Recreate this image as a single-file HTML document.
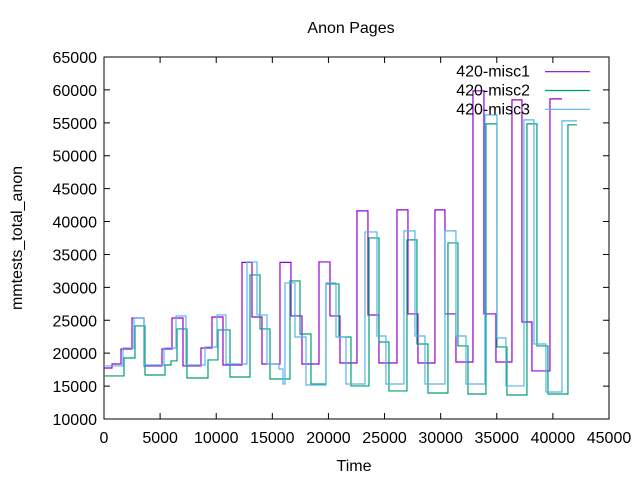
<!DOCTYPE html>
<html><head><meta charset="utf-8"><style>
body{margin:0;background:#fff}
svg{display:block;font-family:"Liberation Sans",sans-serif}
</style></head><body>
<svg id="chart" width="640" height="480" viewBox="0 0 640 480">
<rect width="640" height="480" fill="#fff"/>
<text x="351" y="33" text-anchor="middle" font-size="16">Anon Pages</text>
<text x="354" y="471" text-anchor="middle" font-size="16">Time</text>
<text transform="translate(22,238) rotate(-90)" text-anchor="middle" font-size="16">mmtests_total_anon</text>
<g id="axes"></g>
<g id="series"></g>
<g id="legend"></g>
</svg>
<script>
const xTicks=[0,5000,10000,15000,20000,25000,30000,35000,40000,45000];
const yTicks=[10000,15000,20000,25000,30000,35000,40000,45000,50000,55000,60000,65000];
const seriesNames=["420-misc1","420-misc2","420-misc3"];
const misc1X=[0,713,1515,2495,3564,5168,6059,7039,8643,9623,10603,12296,13187,14078,15681,16661,17641,19157,20136,21027,22541,23521,24502,26105,27085,27976,29491,30382,31362,32877,33856,34926,36352,37243,38134,39738,40807];
const misc1Y=[17750,18360,20640,25350,18060,20640,25350,18060,20790,25500,18210,33800,25500,18360,33800,25660,18360,33860,25660,18510,41620,25800,18510,41770,25960,18510,41770,25960,18660,59860,25960,18660,58490,24740,17300,58640,58640];
const misc2X=[0,1782,2762,3653,5435,5970,6504,7395,9266,10157,11227,13009,13900,14791,16573,17464,18444,19780,20939,22007,23612,24502,25393,26997,27887,28867,30649,31540,32431,34035,35015,35906,37688,38579,39559,41341,42142];
const misc2Y=[16540,19270,24140,16690,18210,18820,23680,16230,18970,23530,16380,31890,23680,16080,30980,22920,15320,30520,22460,15020,37510,21700,14260,37210,21400,13950,36750,21100,13800,54840,20950,13650,54840,21100,13800,54700,54700];
const misc3X=[0,1693,2673,3564,5346,6415,7306,8999,10068,10870,12741,13632,14523,15593,15949,16127,17018,17998,19780,20671,21562,23254,24322,25124,26729,27709,28601,30382,31362,32253,33946,35015,35817,37421,38312,39381,40807,42142];
const misc3Y=[18060,20790,25350,18210,20790,25660,18210,20940,25810,18360,33860,25810,18360,17600,15320,30670,22460,15170,30670,22460,15320,38420,22610,15320,38580,22610,15320,38580,22610,15320,56210,22310,15020,55450,21400,14100,55300,55300];
const colors=["#9400d3","#009e73","#56b4e9"];
const NS="http://www.w3.org/2000/svg";
const L=104,R=609,T=57,B=419;
const xMin=0,xMax=45000,yMin=10000,yMax=65000;
function sx(v){return L+(v-xMin)/(xMax-xMin)*(R-L);}
function sy(v){return B-(v-yMin)/(yMax-yMin)*(B-T);}
function mk(tag,attrs,parent){const e=document.createElementNS(NS,tag);for(const k in attrs)e.setAttribute(k,attrs[k]);parent.appendChild(e);return e;}
const axes=document.getElementById('axes');
const frame=mk('rect',{x:L,y:T,width:R-L,height:B-T,fill:'none',stroke:'#000','stroke-width':1},axes);


xTicks.forEach(v=>{
  const x=sx(v);
  const t=mk('path',{d:`M${x} ${B}v-6M${x} ${T}v6`,stroke:'#000','stroke-width':1},axes);
  
  
  const lb=mk('text',{x:x,y:443,'text-anchor':'middle','font-size':16},axes);
  lb.textContent=v;
  
  
});
yTicks.forEach(v=>{
  const y=sy(v);
  const t=mk('path',{d:`M${L} ${y}h6M${R} ${y}h-6`,stroke:'#000','stroke-width':1},axes);
  
  
  const lb=mk('text',{x:97,y:y+6,'text-anchor':'end','font-size':16},axes);
  lb.textContent=v;
  
  
});
const sg=document.getElementById('series');
function drawSteps(xs,ys,color,name){
  let d=`M${sx(xs[0])} ${sy(ys[0])}`;
  for(let i=1;i<xs.length;i++){d+=`H${sx(xs[i])}V${sy(ys[i])}`;}
  const p=mk('path',{d:d,fill:'none',stroke:color,'stroke-width':1.2},sg);
  
  
}
drawSteps(misc1X,misc1Y,colors[0],'series-420-misc1');
drawSteps(misc2X,misc2Y,colors[1],'series-420-misc2');
drawSteps(misc3X,misc3Y,colors[2],'series-420-misc3');
const lg=document.getElementById('legend');
seriesNames.forEach((n,i)=>{
  const y=71.7+i*18.8;
  const t=mk('text',{x:530,y:y+5,'text-anchor':'end','font-size':16},lg);
  t.textContent=n;
  
  
  const ln=mk('line',{x1:545,x2:590,y1:y,y2:y,stroke:colors[i],'stroke-width':1.2},lg);
  
  
});
</script>
</body></html>
